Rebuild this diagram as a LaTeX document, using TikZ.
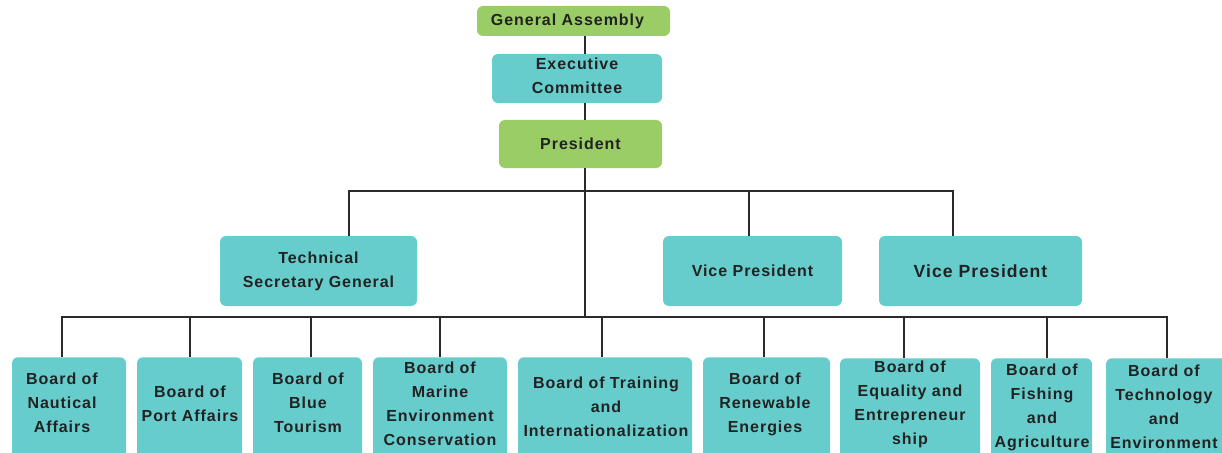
\documentclass[tikz,border=0pt]{standalone}
\usepackage{fontspec}
\setmainfont{Liberation Sans}[LetterSpace=6]
\usetikzlibrary{calc}
\definecolor{boxgreen}{HTML}{9ACD66}
\definecolor{boxteal}{HTML}{66CDCC}
\definecolor{ink}{HTML}{222222}
\definecolor{wire}{HTML}{2A2A2A}
\begin{document}
\begin{tikzpicture}[x=0.75pt,y=-0.75pt,
  labelfont/.style={font=\bfseries\fontsize{12}{18}\selectfont},
  box/.style={draw=none, rounded corners=4.5pt, inner sep=0pt, labelfont, text=ink, align=center},
  gbox/.style={box, fill=boxgreen},
  tbox/.style={box, fill=boxteal},
  wd/.style={minimum width=#1*0.75pt},
  ht/.style={minimum height=#1*0.75pt},
  board/.style={tbox, anchor=north, minimum height=130*0.75pt},
  boardtext/.style={labelfont, text=ink, align=center, inner sep=0pt},
  link/.style={draw=wire, line width=1.5pt}]
\useasboundingbox (0,0) rectangle (1222,453);
\clip (0,0) rectangle (1222,453);

% top of the hierarchy
\node[gbox, wd=193, ht=30] (ga) at (573.5,21) {General Assembly\hspace*{9pt}};
\node[tbox, wd=170, ht=49] (ec) at (577,78.5) {Executive\\Committee\rule[-4.5pt]{0pt}{0pt}};
\node[gbox, wd=163, ht=48] (pres) at (580.5,144) {President};

% second level
\node[tbox, wd=197, ht=70] (tsg) at (318.5,271) {Technical\\Secretary General};
\node[tbox, wd=179, ht=70] (vp1) at (752.5,271) {Vice President};
\node[tbox, wd=203, ht=70, font=\bfseries\fontsize{13.2}{18}\selectfont] (vp2) at (980.5,271) {Vice President};

% boards
\node[board, wd=114] (b1) at (69,357) {};
\node[board, wd=105] (b2) at (189.5,357) {};
\node[board, wd=109] (b3) at (307.5,357) {};
\node[board, wd=134] (b4) at (440,357) {};
\node[board, wd=174] (b5) at (605,357) {};
\node[board, wd=127] (b6) at (766.5,357) {};
\node[board, wd=140] (b7) at (910,358) {};
\node[board, wd=101] (b8) at (1041.5,358) {};
\node[board, wd=124] (b9) at (1168,358) {};

\node[boardtext] (b1t) at (62,403) {Board of\\Nautical\\Affairs};
\node[boardtext] (b2t) at (190,404) {Board of\\Port Affairs};
\node[boardtext] (b3t) at (308,403) {Board of\\Blue\\Tourism};
\node[boardtext] (b4t) at (440,404) {Board of\\Marine\\Environment\\Conservation};
\node[boardtext] (b5t) at (606,407) {Board of Training\\and\\Internationalization};
\node[boardtext] (b6t) at (765,404) {Board of\\Renewable\\Energies};
\node[boardtext] (b7t) at (910,404) {Board of\\Equality and\\Entrepreneur\\ship};
\node[boardtext] (b8t) at (1042,407.5) {Board of\\Fishing\\and\\Agriculture};
\node[boardtext] (b9t) at (1164,407) {Board of\\Technology\\and\\Environment};

% connectors
\coordinate (spine) at (585,0);
\coordinate (upL) at (349,191);
\coordinate (upR) at (953,191);
\coordinate (upM) at (749,191);
\coordinate (lowL) at (62,317);
\coordinate (lowR) at (1167,317);

\draw[link] (ga.south -| spine) -- (ec.north -| spine);
\draw[link] (ec.south -| spine) -- (pres.north -| spine);
\draw[link] (pres.south -| spine) -- (spine |- lowL);
\draw[link] (upL |- tsg.north) -- (upL) -- (upR) -- (upR |- vp2.north);
\draw[link] (upM) -- (upM |- vp1.north);
\draw[link] (lowL |- b1.north) -- (lowL) -- (lowR) -- (lowR |- b9.north);
\foreach \i/\x in {2/190,3/311,4/440,5/602,6/764,7/904,8/1047}{
  \coordinate (d\i) at (\x,317);
  \draw[link] (d\i) -- (d\i |- b\i.north);
}
\end{tikzpicture}
\end{document}
